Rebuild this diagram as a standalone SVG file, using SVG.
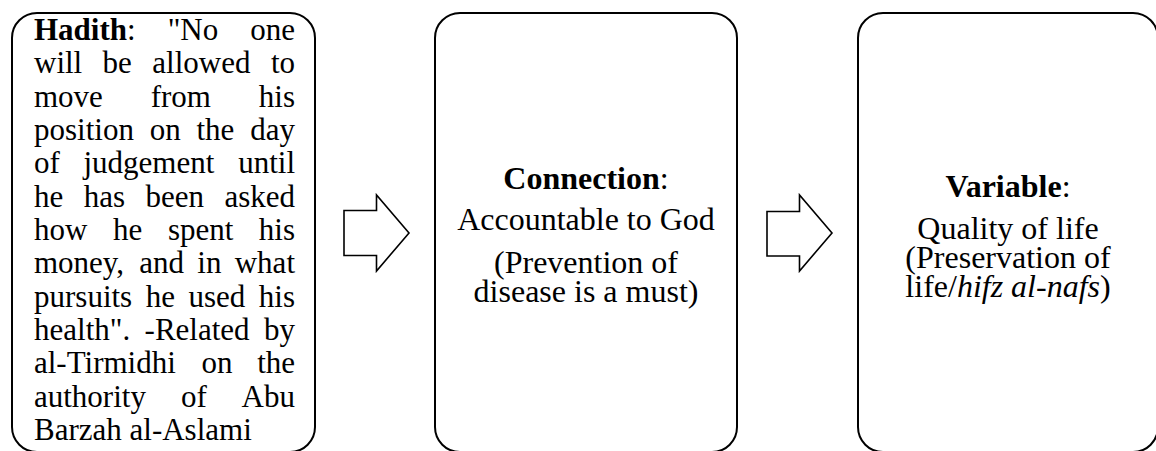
<svg xmlns="http://www.w3.org/2000/svg" width="1156" height="451" viewBox="0 0 1156 451">
<style>
.box{fill:#fff;stroke:#000;stroke-width:2}
.arr{fill:#fff;stroke:#000;stroke-width:1.6;stroke-linejoin:miter}
text{font-family:"Liberation Serif","Times New Roman",serif;fill:#000}
.l{font-size:31px}
.c{font-size:32px;text-anchor:middle}
.e{text-anchor:end}
.b{font-weight:bold}
.i{font-style:italic}
</style>
<rect width="1156" height="451" fill="#fff"/>
<g id="node-hadith">
<rect class="box" x="12" y="13" width="303" height="439" rx="25" ry="25"/>
<text class="l" y="40"><tspan x="34"><tspan class="b">Hadith</tspan>:</tspan><tspan x="167.7">"No</tspan><tspan class="e" x="295">one</tspan></text>
<text class="l" y="73.3"><tspan x="34">will</tspan><tspan x="102.6">be</tspan><tspan x="152.3">allowed</tspan><tspan class="e" x="295">to</tspan></text>
<text class="l" y="106.7"><tspan x="34">move</tspan><tspan x="150.7">from</tspan><tspan class="e" x="295">his</tspan></text>
<text class="l" y="140"><tspan x="34">position</tspan><tspan x="149.7">on</tspan><tspan x="196.5">the</tspan><tspan class="e" x="295">day</tspan></text>
<text class="l" y="173.3"><tspan x="34">of</tspan><tspan x="83.5">judgement</tspan><tspan class="e" x="295">until</tspan></text>
<text class="l" y="206.7"><tspan x="34">he</tspan><tspan x="83.7">has</tspan><tspan x="145.4">been</tspan><tspan class="e" x="295">asked</tspan></text>
<text class="l" y="240"><tspan x="34">how</tspan><tspan x="113">he</tspan><tspan x="167.9">spent</tspan><tspan class="e" x="295">his</tspan></text>
<text class="l" y="273.3"><tspan x="34">money,</tspan><tspan x="139.3">and</tspan><tspan x="197.3">in</tspan><tspan class="e" x="295">what</tspan></text>
<text class="l" y="306.7"><tspan x="34">pursuits</tspan><tspan x="145.7">he</tspan><tspan x="188.5">used</tspan><tspan class="e" x="295">his</tspan></text>
<text class="l" y="340"><tspan x="34">health".</tspan><tspan x="144.6">-Related</tspan><tspan class="e" x="295">by</tspan></text>
<text class="l" y="373.3"><tspan x="34">al-Tirmidhi</tspan><tspan x="201.5">on</tspan><tspan class="e" x="295">the</tspan></text>
<text class="l" y="406.7"><tspan x="34">authority</tspan><tspan x="180.9">of</tspan><tspan class="e" x="295">Abu</tspan></text>
<text class="l" x="34" y="440">Barzah al-Aslami</text>
</g>
<g id="node-connection">
<rect class="box" x="435" y="13" width="302" height="439" rx="25" ry="25"/>
<text class="c" x="586" y="189"><tspan class="b">Connection</tspan>:</text>
<text class="c" x="586" y="230">Accountable to God</text>
<text class="c" x="586" y="273">(Prevention of</text>
<text class="c" x="586" y="302">disease is a must)</text>
</g>
<g id="node-variable">
<rect class="box" x="858" y="13" width="300" height="439" rx="25" ry="25"/>
<text class="c" x="1008" y="197"><tspan class="b">Variable</tspan>:</text>
<text class="c" x="1008" y="239">Quality of life</text>
<text class="c" x="1008" y="268">(Preservation of</text>
<text class="c" x="1008" y="297">life/<tspan class="i">hifz al-nafs</tspan>)</text>
</g>
<g id="connectors">
<polygon class="arr" points="344,210.5 376.5,210.5 376.5,195 409,233 376.5,271 376.5,255.5 344,255.5"/>
<polygon class="arr" points="767,211.5 799.5,211.5 799.5,195 832,233 799.5,271 799.5,256 767,256"/>
</g>
</svg>
